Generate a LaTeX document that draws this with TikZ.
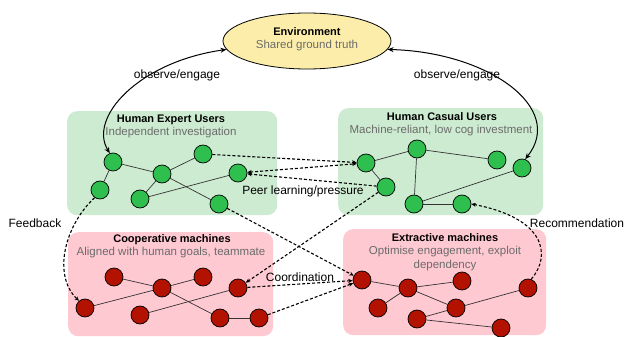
\documentclass[tikz,border=0pt]{standalone}
\usepackage{fontspec}
\setmainfont{Liberation Sans}
\usetikzlibrary{arrows.meta,shapes.geometric}
\definecolor{boxgreen}{HTML}{CDEBD1}
\definecolor{boxpink}{HTML}{FFC9D2}
\definecolor{nodegreen}{HTML}{2FBF4F}
\definecolor{nodered}{HTML}{B31200}
\definecolor{envfill}{HTML}{FCEEAA}
\definecolor{subgray}{HTML}{6B6B6B}
\definecolor{edgegray}{HTML}{333333}
\begin{document}
\begin{tikzpicture}[x=1pt,y=-1pt,
  gbox/.style={fill=boxgreen, rounded corners=10pt, anchor=north west, inner sep=0pt},
  pbox/.style={fill=boxpink, rounded corners=10pt, anchor=north west, inner sep=0pt},
  gn/.style={circle, draw=black, fill=nodegreen, minimum size=18pt, inner sep=0pt, line width=0.7pt},
  rn/.style={circle, draw=black, fill=nodered, minimum size=18pt, inner sep=0pt, line width=0.7pt},
  ttl/.style={font=\fontsize{11}{13}\selectfont\bfseries, inner sep=0pt},
  subt/.style={font=\fontsize{11.5}{13.5}\selectfont, text=subgray, inner sep=0pt, align=center},
  lbl/.style={font=\fontsize{12}{14}\selectfont, inner sep=0pt},
  link/.style={draw=edgegray, line width=0.7pt},
  dotl/.style={draw=black, line width=1.1pt, dash pattern=on 3pt off 2pt},
  tipend/.style={-{Stealth[length=4.5pt,width=4pt]}},
  tipboth/.style={{Stealth[length=4.5pt,width=4pt]}-{Stealth[length=4.5pt,width=4pt]}},
  solidarr/.style={draw=black, line width=1pt, {Stealth[length=6pt,width=5pt]}-{Stealth[length=6pt,width=5pt]}}
]
\useasboundingbox (0,0) rectangle (625,337);

% boxes
\node[gbox, minimum width=210pt, minimum height=104pt] (hxbox) at (67,111) {};
\node[gbox, minimum width=205pt, minimum height=107pt] (hcbox) at (338,108) {};
\node[pbox, minimum width=205pt, minimum height=104pt] (cmbox) at (68,232) {};
\node[pbox, minimum width=203pt, minimum height=106pt] (embox) at (343,229) {};

% environment
\node[ellipse, draw=black, fill=envfill, line width=0.8pt, minimum width=168pt, minimum height=56pt] (env) at (307,41) {};
\node[ttl] (envt) at (307,32) {Environment};
\node[subt] (envs) at (307,46) {Shared ground truth};

% titles
\node[ttl] (hxt) at (171,120) {Human Expert Users};
\node[subt] (hxs) at (171,133) {Independent investigation};
\node[ttl] (hct) at (442,117) {Human Casual Users};
\node[subt] (hcs) at (441,131) {Machine-reliant, low cog investment};
\node[ttl] (cmt) at (172,240) {Cooperative machines};
\node[subt] (cms) at (171,253) {Aligned with human goals, teammate};
\node[ttl] (emt) at (445,238) {Extractive machines};
\node[subt] (ems) at (445,258.5) {Optimise engagement, exploit\\dependency};

% expert nodes
\node[gn] (E1) at (113,162) {};
\node[gn] (E2) at (100,190) {};
\node[gn] (E3) at (162,174) {};
\node[gn] (E4) at (203,154) {};
\node[gn] (E5) at (238,173) {};
\node[gn] (E6) at (140,199) {};
\node[gn] (E7) at (219,204) {};
% casual nodes
\node[gn] (C1) at (366,163) {};
\node[gn] (C2) at (417,149) {};
\node[gn] (C3) at (497,160) {};
\node[gn] (C4) at (522,168) {};
\node[gn] (C5) at (386,187) {};
\node[gn] (C6) at (414,204) {};
\node[gn] (C7) at (462,204) {};
% cooperative nodes
\node[rn] (P0) at (85,308) {};
\node[rn] (P1) at (114,277) {};
\node[rn] (P2) at (162,288) {};
\node[rn] (P3) at (203,277) {};
\node[rn] (P4) at (238,288) {};
\node[rn] (P5) at (140,315) {};
\node[rn] (P6) at (220,318) {};
\node[rn] (P7) at (259,318) {};
% extractive nodes
\node[rn] (X1) at (362,280) {};
\node[rn] (X2) at (408,288) {};
\node[rn] (X3) at (462,281) {};
\node[rn] (X4) at (378,308) {};
\node[rn] (X5) at (456,308) {};
\node[rn] (X6) at (528,288) {};
\node[rn] (X7) at (417,319) {};
\node[rn] (X8) at (501,328) {};

% internal links
\draw[link] (E1) -- (E3);
\draw[link] (E1) -- (E2);
\draw[link] (E3) -- (E4);
\draw[link] (E3) -- (E6);
\draw[link] (E3) -- (E7);
\draw[link] (E6) -- (E5);
\draw[link] (C1) -- (C2);
\draw[link] (C2) -- (C3);
\draw[link] (C1) -- (C5);
\draw[link] (C2) -- (C6);
\draw[link] (C6) -- (C4);
\draw[link] (C6) -- (C7);
\draw[link] (P0) -- (P2);
\draw[link] (P2) -- (P3);
\draw[link] (P1) -- (P2);
\draw[link] (P2) -- (P6);
\draw[link] (P5) -- (P4);
\draw[link] (P6) -- (P7);
\draw[link] (X1) -- (X2);
\draw[link] (X2) -- (X3);
\draw[link] (X2) -- (X4);
\draw[link] (X2) -- (X5);
\draw[link] (X5) -- (X6);
\draw[link] (X7) -- (X5);
\draw[link] (X7) -- (X8);

% observe/engage
\draw[solidarr] (E1.110) .. controls (88,118) and (138,62) .. (env.186);
\draw[solidarr] (env.354) .. controls (488,52) and (566,108) .. (C4.70);
\node[lbl] (obsl) at (177,75) {observe/engage};
\node[lbl] (obsr) at (457,75) {observe/engage};

% peer learning
\draw[dotl, tipend] (E4) -- (C1);
\draw[dotl, tipboth] (E5) -- (C1);
\draw[dotl, tipend] (C5) -- (E5);
\node[lbl] (peer) at (303,191) {Peer learning/pressure};

% machine links
\draw[dotl, tipend] (E7) -- (X1);
\draw[dotl, tipend] (C5) -- (P4);
\draw[dotl, tipend] (P4) -- (X1);
\draw[dotl, tipend] (P7) -- (X1);
\node[lbl] (coord) at (300,277) {Coordination};

% feedback
\draw[dotl, tipend] (E2.235) .. controls (65,225) and (52,275) .. (P0.130);
\node[lbl] (fb) at (35,223) {Feedback};

% recommendation
\draw[dotl, tipend] (X6.70) .. controls (552,255) and (545,218) .. (C7.east);
\node[lbl] (rec) at (577,223) {Recommendation};
\end{tikzpicture}
\end{document}
